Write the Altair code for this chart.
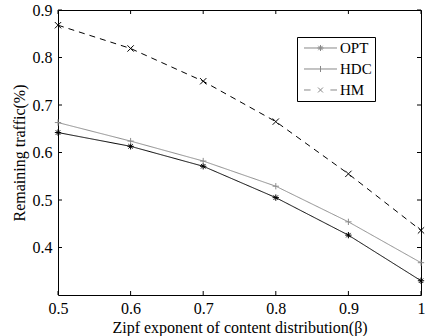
import altair as alt
import pandas as pd

beta = [0.5, 0.6, 0.7, 0.8, 0.9, 1.0]
opt = [0.642, 0.613, 0.571, 0.505, 0.426, 0.330]
hdc = [0.663, 0.624, 0.582, 0.529, 0.454, 0.368]
hm = [0.868, 0.819, 0.750, 0.665, 0.555, 0.436]
series = ["OPT", "HDC", "HM"]
x_ticks = [0.5, 0.6, 0.7, 0.8, 0.9, 1.0]
y_ticks = [0.4, 0.5, 0.6, 0.7, 0.8, 0.9]

rows = []
for name, vals in zip(series, [opt, hdc, hm]):
    for b, v in zip(beta, vals):
        rows.append({"beta": b, "traffic": v, "series": name})
df = pd.DataFrame(rows)
xt = pd.DataFrame({"beta": x_ticks})
yt = pd.DataFrame({"traffic": y_ticks})

W, H = 363, 285
TK = 4
FONT = "Liberation Serif, Times New Roman, Times, DejaVu Serif, serif"
colors = ["#000000", "#8c8c8c", "#000000"]
dashes = [[1, 0], [1, 0], [6, 5]]
ASTER = "M-1,0L1,0M0,-1L0,1M-0.7,-0.7L0.7,0.7M-0.7,0.7L0.7,-0.7"
PLUS = "M-1,0L1,0M0,-1L0,1"
XMARK = "M-1,-1L1,1M-1,1L1,-1"
# legend symbols: line + marker, extended beyond the unit box (shifted half a pixel for crisp lines)
LEG_OPT = ("M-3,0.09L3,0.09M0,-0.46L0,0.64M-0.55,0.09L0.55,0.09"
           "M-0.4,-0.31L0.4,0.49M-0.4,0.49L0.4,-0.31")
LEG_HDC = "M-3,0.09L3,0.09M0,-0.46L0,0.64"
LEG_HM = "M-3,0.09L-1.8,0.09M1.8,0.09L3,0.09M-0.45,-0.36L0.45,0.54M-0.45,0.54L0.45,-0.36"

xscale = alt.Scale(domain=[0.5, 1.0], nice=False)
yscale = alt.Scale(domain=[0.3, 0.9], nice=False, zero=False)
col = alt.Scale(domain=series, range=colors)

xaxis = alt.Axis(orient="bottom", values=x_ticks, format="~g", ticks=False,
                 domain=False, grid=False, labelFlush=False, labelOverlap=False,
                 title="Zipf exponent of content distribution(β)",
                 labelPadding=5, titlePadding=3)
yaxis = alt.Axis(orient="left", values=y_ticks, format=".1f", ticks=False,
                 domain=False, grid=False, labelFlush=False, labelOverlap=False,
                 title="Remaining traffic(%)",
                 labelPadding=6, titlePadding=5)

X = lambda: alt.X("beta:Q", scale=xscale, axis=xaxis)
Y = lambda: alt.Y("traffic:Q", scale=yscale, axis=yaxis)

base = alt.Chart(df)

lines = base.mark_line(strokeWidth=1, clip=True).encode(
    x=X(), y=Y(),
    color=alt.Color("series:N", scale=col, legend=None),
    strokeDash=alt.StrokeDash("series:N", scale=alt.Scale(domain=series, range=dashes), legend=None),
)

pts = base.mark_point(filled=False, strokeWidth=1, size=40, opacity=1).encode(
    x=X(), y=Y(),
    color=alt.Color("series:N", scale=col, legend=None),
    shape=alt.Shape("series:N", scale=alt.Scale(domain=series, range=[ASTER, PLUS, XMARK]), legend=None),
)

# inward tick marks on all four sides (positions from the scales)
tick_style = dict(color="black", strokeWidth=1)
bottom_ticks = alt.Chart(xt).mark_rule(**tick_style).encode(
    x=X(), y=alt.value(H), y2=alt.value(H - TK))
top_ticks = alt.Chart(xt).mark_rule(**tick_style).encode(
    x=X(), y=alt.value(0), y2=alt.value(TK))
left_ticks = alt.Chart(yt).mark_rule(**tick_style).encode(
    y=Y(), x=alt.value(0), x2=alt.value(TK))
right_ticks = alt.Chart(yt).mark_rule(**tick_style).encode(
    y=Y(), x=alt.value(W), x2=alt.value(W - TK))

leg_props = dict(
    orient="none", legendX=239, legendY=27, title=None,
    symbolSize=121, symbolStrokeWidth=1, symbolFillColor="transparent",
    symbolOpacity=1,
    symbolOffset=13, labelOffset=12,
    labelFont=FONT, labelFontSize=15, labelColor="black",
    strokeColor="black", fillColor="white", padding=3, rowPadding=5,
    cornerRadius=0,
)

legend_layer = base.transform_filter("false").mark_point(filled=False, strokeWidth=1, opacity=1).encode(
    x=X(), y=Y(),
    color=alt.Color("series:N", scale=col, legend=alt.Legend(**leg_props)),
    shape=alt.Shape("series:N", scale=alt.Scale(domain=series, range=[LEG_OPT, LEG_HDC, LEG_HM]),
                    legend=alt.Legend(**leg_props)),
)

chart = alt.layer(lines, pts, bottom_ticks, top_ticks, left_ticks, right_ticks, legend_layer
).resolve_scale(shape="independent").properties(
    width=W, height=H,
    autosize=alt.AutoSizeParams(type="none"),
    padding={"left": 58, "top": 10, "right": 4, "bottom": 41},
    background="white",
).configure_view(
    stroke="black", strokeWidth=1
).configure_axis(
    labelFont=FONT, labelFontSize=16, labelColor="black",
    titleFont=FONT, titleFontSize=16, titleFontWeight="normal", titleColor="black",
)

chart.save("out.html", embed_options={"renderer": "svg", "actions": False})
